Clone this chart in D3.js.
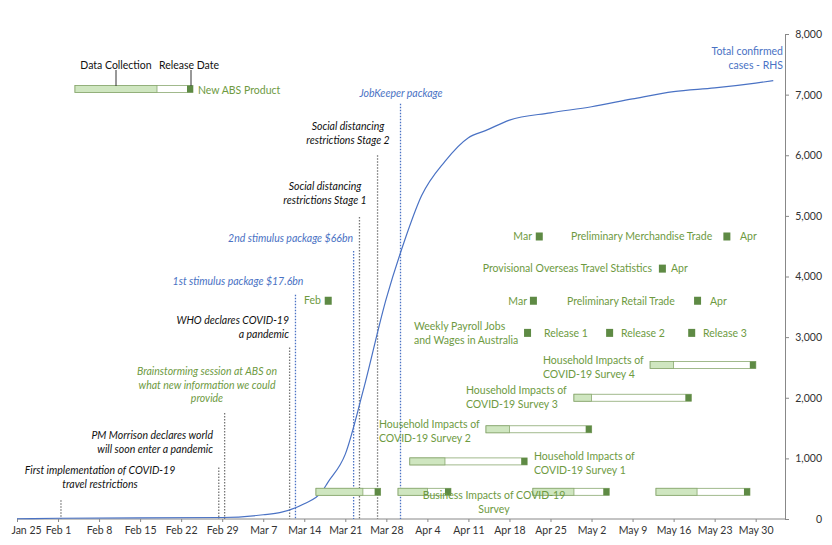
<!DOCTYPE html><html><head><meta charset="utf-8"><script src="https://cdn.jsdelivr.net/npm/d3@7"></script>
<style>body{margin:0;background:#fff}text{font-family:Lato,"Open Sans",sans-serif;font-size:10.5px}</style></head><body><svg id="c" width="832" height="545"></svg><script>
const xTicks=["Jan 25","Feb 1","Feb 8","Feb 15","Feb 22","Feb 29","Mar 7","Mar 14","Mar 21","Mar 28","Apr 4","Apr 11","Apr 18","Apr 25","May 2","May 9","May 16","May 23","May 30"];
const yTicks=[0,1000,2000,3000,4000,5000,6000,7000,8000];
const caseDates=["2020-01-25","2020-02-01","2020-02-29","2020-03-07","2020-03-10","2020-03-14","2020-03-17","2020-03-18","2020-03-21","2020-03-24","2020-03-28","2020-03-31","2020-04-03","2020-04-07","2020-04-11","2020-04-14","2020-04-18","2020-04-25","2020-05-02","2020-05-09","2020-05-16","2020-05-23","2020-05-30","2020-06-02"];
const caseVals=[4,12,25,70,110,250,450,600,1070,2100,3640,4560,5330,5900,6290,6410,6580,6700,6800,6930,7050,7110,7190,7230];
// surveys: [start, collection end, release]
const surveyNames=["Business Impacts of COVID-19 Survey","Business Impacts of COVID-19 Survey","Business Impacts of COVID-19 Survey","Business Impacts of COVID-19 Survey","Household Impacts of COVID-19 Survey 1","Household Impacts of COVID-19 Survey 2","Household Impacts of COVID-19 Survey 3","Household Impacts of COVID-19 Survey 4"];
const surveyStart=["2020-03-16","2020-03-30","2020-04-22","2020-05-13","2020-04-01","2020-04-14","2020-04-29","2020-05-12"];
const surveyCollEnd=["2020-03-24","2020-04-04","2020-04-29","2020-05-20","2020-04-07","2020-04-18","2020-05-02","2020-05-16"];
const surveyRelease=["2020-03-26","2020-04-07","2020-05-04","2020-05-28","2020-04-20","2020-05-01","2020-05-18","2020-05-29"];
const surveyLevel=[300,300,300,300,950,1480,2000,2540];
const releaseNames=["Feb","Release 1","Release 2","Release 3","Mar","Apr","Apr","Mar","Apr"];
const releaseDates=["2020-03-18","2020-04-21","2020-05-05","2020-05-19","2020-04-22","2020-05-20","2020-05-14","2020-04-23","2020-05-25"];
const releaseLevel=[3600,3070,3070,3070,3600,3600,4130,4660,4660];
const eventNames=["First implementation of COVID-19|travel restrictions","PM Morrison declares world|will soon enter a pandemic","Brainstorming session at ABS on|what new information we could|provide","WHO declares COVID-19|a pandemic","1st stimulus package $17.6bn","2nd stimulus package $66bn","Social distancing|restrictions Stage 1","Social distancing|restrictions Stage 2","JobKeeper package"];
const eventDates=["2020-02-01T12:00","2020-02-28T10:00","2020-02-29T10:00","2020-03-11T12:00","2020-03-12T12:00","2020-03-22T10:00","2020-03-23T10:00","2020-03-26T12:00","2020-03-30T10:00"];
const eventTop=[310,850,1750,2830,3700,4420,4980,6000,6850];
const eventKind=["k","k","g","k","b","b","k","k","b"];

const svg=d3.select("#c"),P=d3.timeParse("%Y-%m-%d"),PT=d3.timeParse("%Y-%m-%dT%H:%M");
const pd=s=>s.length>10?PT(s):P(s);
const x=d3.scaleTime().domain([P("2020-01-25"),P("2020-06-04")]).range([17,785]);
const y=d3.scaleLinear().domain([0,8000]).range([519,34]);
const G="#6e9a3f",B="#4a72c4",K="#111";
const col={k:K,g:G,b:B};
// right axis
const ra=svg.append("g").attr("transform","translate(785,0)").call(d3.axisRight(y).tickValues(yTicks).tickFormat(d3.format(",")).tickSize(4));
ra.select(".domain").attr("stroke","#888");ra.selectAll("line").attr("stroke","#888");
ra.selectAll("text").attr("x",37).attr("text-anchor","end").attr("fill","#333");
// bottom axis
const tickDates=xTicks.map((t,i)=>d3.timeDay.offset(P("2020-01-25"),7*i));
const ba=svg.append("g").attr("transform","translate(0,519)").call(d3.axisBottom(x).tickValues(tickDates).tickFormat((d,i)=>xTicks[i]).tickSize(3));
ba.select(".domain").attr("stroke","#888").attr("d","M17,0H785");ba.selectAll("line").attr("stroke","#888");
ba.selectAll("text").attr("fill","#333").attr("dy","0.9em");
ba.select(".tick text").attr("dx","9");
// events
eventNames.forEach((n,i)=>{
 const xx=x(pd(eventDates[i]));const c=col[eventKind[i]];
 svg.append("line").attr("x1",xx).attr("x2",xx).attr("y1",y(eventTop[i])).attr("y2",519).attr("stroke",eventKind[i]=="b"?B:"#777").attr("stroke-width",1.3).attr("stroke-dasharray","1.5,1.5");
});
const evText=[[100,470,"middle"],[213,435,"end"],[207,371,"middle"],[289,320,"end"],[238,281,"middle"],[353,238,"end"],[325,186,"middle"],[348,126,"middle"],[401,93,"middle"]];
eventNames.forEach((n,i)=>{const [tx,ty,a]=evText[i];
 const t=svg.append("text").attr("text-anchor",a).attr("font-style","italic").attr("fill",col[eventKind[i]]);
 n.split("|").forEach((s,j)=>t.append("tspan").attr("x",tx).attr("y",ty+4+j*13.5).text(s));});
// cases line
const cd=caseDates.map((d,i)=>[P(d),caseVals[i]]);
svg.append("path").datum(cd).attr("fill","none").attr("stroke",B).attr("stroke-width",1.2).attr("d",d3.line().x(d=>x(d[0])).y(d=>y(d[1])).curve(d3.curveMonotoneX));
svg.append("text").attr("text-anchor","end").attr("fill",B).selectAll("tspan").data(["Total confirmed","cases - RHS"]).join("tspan").attr("x",783).attr("y",(d,i)=>55+i*14).text(d=>d);
// bars
function bar(x0,x1,x2,yc){
 const h=7;
 svg.append("rect").attr("x",x0).attr("y",yc-h/2).attr("width",x2-x0+6).attr("height",h).attr("fill","#fff").attr("stroke","#8aa870").attr("stroke-width",0.8);
 svg.append("rect").attr("x",x0).attr("y",yc-h/2).attr("width",x1-x0).attr("height",h).attr("fill","#cfe6c0").attr("stroke","#8aa870").attr("stroke-width",0.8);
 svg.append("rect").attr("x",x2).attr("y",yc-h/2).attr("width",6).attr("height",h).attr("fill","#5e8a44");
}
surveyNames.forEach((n,i)=>bar(x(P(surveyStart[i])),x(P(surveyCollEnd[i])),x(P(surveyRelease[i])),y(surveyLevel[i])-124+ (i<4?115:124)));
releaseDates.forEach((d,i)=>{const xx=x(P(d)),yy=y(releaseLevel[i]);
 svg.append("rect").attr("x",xx-3).attr("y",yy-4).attr("width",7).attr("height",8).attr("fill","#5e8a44");});
// green labels
const gl=[["Business Impacts of COVID-19|Survey",494,495,"middle"],["Household Impacts of|COVID-19 Survey 1",534,456,"start"],["Household Impacts of|COVID-19 Survey 2",379,424,"start"],["Household Impacts of|COVID-19 Survey 3",466,390,"start"],["Household Impacts of|COVID-19 Survey 4",543,360,"start"],["Weekly Payroll Jobs|and Wages in Australia",414,326,"start"],
["Feb",321,300,"end"],["Release 1",544,333,"start"],["Release 2",621,333,"start"],["Release 3",703,333,"start"],["Mar",527,301,"end"],["Preliminary Retail Trade",567,301,"start"],["Apr",710,301,"start"],["Provisional Overseas Travel Statistics",652,268,"end"],["Apr",671,268,"start"],["Mar",532,236,"end"],["Preliminary Merchandise Trade",571,236,"start"],["Apr",740,236,"start"],["New ABS Product",198,90,"start"]];
gl.forEach(([s,tx,ty,a])=>{const t=svg.append("text").attr("text-anchor",a).attr("fill",G);
 s.split("|").forEach((v,j)=>t.append("tspan").attr("x",tx).attr("y",ty+4+j*13.5).text(v));});
// legend
bar(75,157,187,89);
svg.append("line").attr("x1",116).attr("x2",116).attr("y1",70).attr("y2",86).attr("stroke","#333");
svg.append("line").attr("x1",191).attr("x2",191).attr("y1",70).attr("y2",86).attr("stroke","#333");
svg.append("text").attr("x",116).attr("y",69).attr("text-anchor","middle").attr("fill",K).text("Data Collection");
svg.append("text").attr("x",189).attr("y",69).attr("text-anchor","middle").attr("fill",K).text("Release Date");
</script></body></html>
